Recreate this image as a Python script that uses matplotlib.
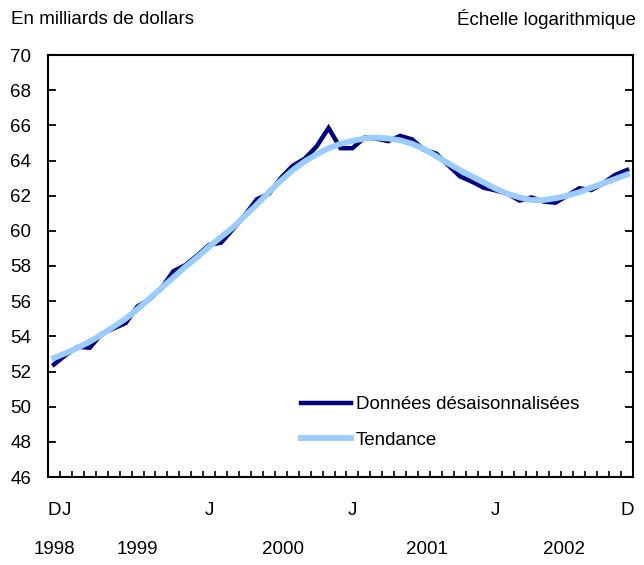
import matplotlib
matplotlib.use("Agg")
import matplotlib.pyplot as plt
import matplotlib.transforms as mtransforms

plt.rcParams['font.family'] = ['Liberation Sans', 'DejaVu Sans']

# monthly values, Dec 1998 .. Dec 2002 (49 months)
donnees = [52.4, 52.95, 53.4, 53.35, 54.15, 54.45, 54.75, 55.7, 56.1, 56.75,
           57.7, 58.05, 58.6, 59.2, 59.33, 60.1, 60.9, 61.8, 62.1, 63.0,
           63.7, 64.1, 64.8, 65.85, 64.7, 64.7, 65.3, 65.25, 65.1, 65.4,
           65.2, 64.6, 64.4, 63.75, 63.1, 62.8, 62.45, 62.3, 62.1, 61.72,
           61.9, 61.67, 61.6, 62.0, 62.42, 62.32, 62.7, 63.18, 63.46]
tendance = [52.77, 53.05, 53.35, 53.7, 54.1, 54.55, 55.0, 55.55, 56.15, 56.75,
            57.35, 57.95, 58.5, 59.1, 59.65, 60.2, 60.85, 61.5, 62.2, 62.85,
            63.45, 63.95, 64.35, 64.7, 64.95, 65.12, 65.25, 65.3, 65.25, 65.15,
            64.95, 64.65, 64.25, 63.85, 63.45, 63.1, 62.75, 62.4, 62.1, 61.9,
            61.75, 61.75, 61.85, 62.0, 62.2, 62.45, 62.7, 62.95, 63.2]
mois = list(range(len(donnees)))

mois_pos = [0, 1, 13, 25, 37, 48]
mois_lab = ['D', 'J', 'J', 'J', 'J', 'D']
annees = ['1998', '1999', '2000', '2001', '2002']
annees_pos = [0, 7, 19.2, 31.2, 42.7]

fs = 13.5

fig = plt.figure(figsize=(6.44, 5.65), dpi=100)
ax = fig.add_axes([48/644, 1 - 477/565, 585/644, 422/565])

ax.plot(mois, donnees, color='#000080', lw=3.2, label='Données désaisonnalisées',
        solid_joinstyle='miter')
ax.plot(mois, tendance, color='#99CCFF', lw=4.2, label='Tendance')

ax.set_xlim(-0.5, 48.5)
ax.set_ylim(46, 70)
ax.set_yticks(range(46, 71, 2))

ax.set_xticks(mois_pos)
ax.set_xticklabels(mois_lab)
ax.set_xticks([i + 0.5 for i in range(48)], minor=True)
ax.tick_params(axis='x', which='major', length=0, pad=18, labelsize=fs)
ax.tick_params(axis='x', which='minor', direction='in', length=4, width=1.2)
ax.tick_params(axis='y', which='major', direction='in', length=5.5, width=1.3,
               left=True, right=True, pad=12, labelsize=fs)
for s in ax.spines.values():
    s.set_linewidth(1.5)

trans = mtransforms.blended_transform_factory(ax.transData, fig.transFigure)
for a, p in zip(annees, annees_pos):
    ax.text(p, 1 - 549/565, a, transform=trans, ha='center', va='center', fontsize=fs)

fig.text(11/644, 1 - 19/565, 'En milliards de dollars', ha='left', va='center', fontsize=fs)
fig.text(636/644, 1 - 19/565, 'Échelle logarithmique', ha='right', va='center', fontsize=fs)

ax.legend(loc='upper left', bbox_to_anchor=(301/644, 1 - 396/565),
          bbox_transform=fig.transFigure, frameon=False, fontsize=fs,
          borderpad=0, borderaxespad=0, handlelength=2.67, handletextpad=0.27,
          labelspacing=1.0)

fig.savefig('out.png', dpi=100)
